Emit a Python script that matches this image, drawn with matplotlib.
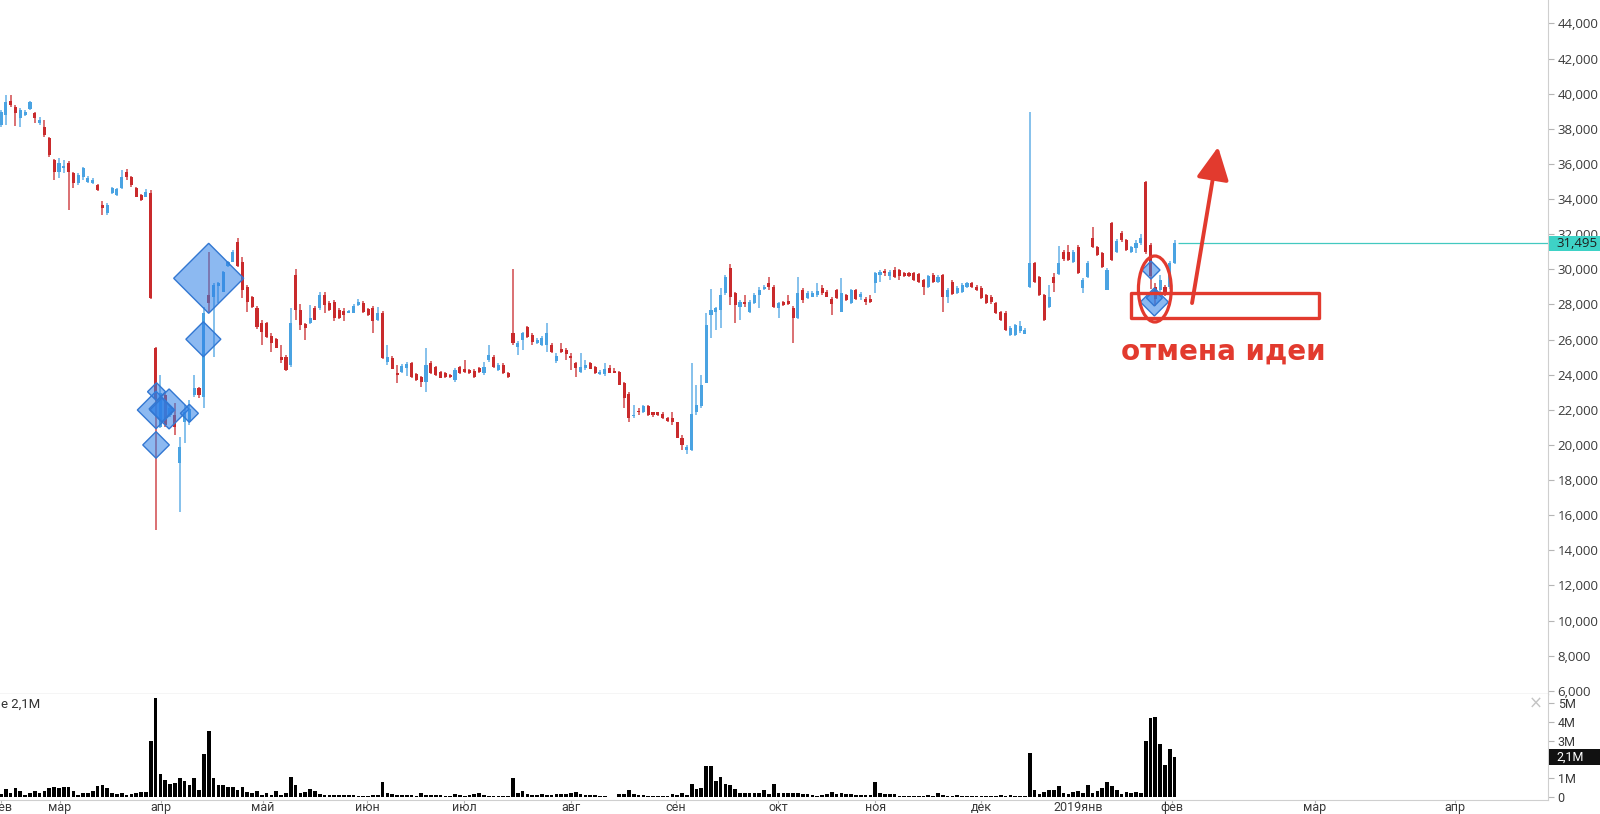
import numpy as np
import matplotlib
matplotlib.use("Agg")
import matplotlib.pyplot as plt
from matplotlib.patches import Polygon, Ellipse, Rectangle
from matplotlib.transforms import blended_transform_factory

# ---------------- data (prices in thousands, volume in millions) ----------------
open_k = [
    38.23, 38.80, 39.59, 39.25, 38.63, 38.80, 39.14, 38.91, 38.34, 38.11,
    37.49, 36.24, 35.55, 35.78, 36.07, 35.50, 34.93, 35.27, 35.00, 34.93,
    34.81, 33.68, 33.22, 34.36, 34.25, 34.64, 35.55, 35.27, 34.64, 34.25,
    34.13, 34.36, 25.54, 21.05, 22.87, 21.73, 21.73, 19.00, 21.28, 21.28,
    22.87, 23.27, 22.75, 28.56, 28.44, 29.07, 28.73, 30.21, 30.43, 31.57,
    30.43, 29.00, 28.44, 27.82, 26.97, 26.97, 26.23, 26.06, 25.03, 25.03,
    24.58, 29.69, 27.70, 26.91, 26.97, 27.82, 27.82, 28.56, 28.10, 28.16,
    27.70, 27.65, 27.53, 27.53, 27.99, 28.10, 27.76, 27.82, 27.14, 27.53,
    24.75, 24.97, 24.12, 24.18, 24.40, 24.69, 24.06, 23.89, 23.61, 24.69,
    24.46, 24.18, 24.12, 24.01, 23.72, 24.46, 24.35, 24.29, 24.23, 24.40,
    24.12, 24.86, 25.03, 24.29, 24.58, 24.12, 26.40, 25.60, 26.00, 26.74,
    26.28, 25.83, 25.71, 25.71, 25.71, 24.80, 25.48, 25.43, 25.08, 24.69,
    24.18, 24.40, 24.69, 24.46, 24.06, 24.06, 24.40, 24.23, 24.18, 23.55,
    22.92, 21.62, 21.91, 21.85, 22.24, 21.85, 21.85, 21.79, 21.56, 21.56,
    21.28, 20.42, 19.74, 19.74, 21.85, 22.19, 23.55, 27.42, 27.59, 27.70,
    28.67, 30.09, 28.67, 27.87, 28.16, 27.59, 28.10, 28.56, 28.90, 29.24,
    29.02, 27.82, 28.16, 28.22, 27.82, 27.25, 28.84, 28.39, 28.44, 28.56,
    28.96, 28.73, 28.33, 28.84, 27.59, 28.56, 28.10, 28.84, 28.44, 28.33,
    28.33, 29.24, 29.69, 29.92, 29.63, 29.98, 29.98, 29.80, 29.80, 29.80,
    29.75, 29.41, 29.02, 29.69, 29.30, 29.69, 28.44, 29.30, 28.67, 28.73,
    29.02, 29.24, 29.02, 28.96, 28.56, 28.44, 28.10, 27.59, 27.53, 26.28,
    26.28, 26.51, 26.34, 29.02, 30.38, 29.58, 28.56, 27.87, 29.58, 29.75,
    31.00, 31.00, 30.43, 31.29, 28.96, 29.58, 31.80, 31.29, 30.95, 28.84,
    32.65, 31.00, 32.08, 31.69, 31.00, 31.23, 31.52, 35.00, 31.40, 29.00,
    28.84, 29.02, 29.02, 30.38,
]
high_k = [
    39.08, 39.93, 39.93, 39.36, 39.19, 39.05, 39.60, 38.95, 38.65, 38.51,
    37.55, 36.30, 36.35, 36.24, 36.15, 35.55, 35.50, 35.84, 35.30, 35.20,
    34.85, 33.90, 33.80, 34.70, 34.65, 35.67, 35.70, 35.30, 34.70, 34.30,
    34.60, 34.50, 25.60, 24.01, 23.00, 22.20, 22.41, 20.48, 22.30, 22.58,
    24.01, 23.30, 27.87, 31.00, 29.20, 29.30, 29.90, 30.50, 31.10, 31.80,
    30.70, 29.10, 28.50, 27.90, 27.14, 27.00, 26.40, 26.10, 25.71, 25.10,
    27.82, 30.03, 28.04, 26.97, 27.99, 27.90, 28.73, 28.73, 28.20, 28.25,
    27.80, 27.82, 27.70, 28.00, 28.30, 28.20, 27.80, 27.90, 27.87, 27.60,
    25.71, 25.05, 24.58, 24.60, 24.75, 24.75, 24.10, 23.95, 25.54, 24.80,
    24.50, 24.20, 24.15, 24.05, 24.40, 24.50, 24.86, 24.35, 24.30, 24.45,
    24.75, 25.71, 25.10, 24.65, 24.65, 24.15, 30.03, 25.90, 26.46, 26.80,
    26.35, 26.10, 26.20, 26.97, 25.80, 25.26, 25.83, 25.50, 25.26, 24.75,
    25.26, 24.86, 24.75, 24.50, 24.25, 24.69, 24.58, 24.40, 24.23, 23.60,
    23.00, 22.30, 22.08, 22.30, 22.30, 21.90, 21.90, 21.85, 21.60, 21.85,
    21.30, 20.59, 20.00, 24.69, 23.44, 24.01, 27.53, 28.90, 27.87, 28.96,
    29.69, 30.32, 28.73, 28.27, 28.56, 28.25, 28.65, 29.02, 29.10, 29.58,
    29.10, 28.16, 28.20, 28.56, 27.90, 29.58, 28.96, 28.75, 28.75, 29.24,
    29.13, 28.80, 28.40, 28.90, 29.52, 28.60, 28.90, 28.90, 28.73, 28.40,
    28.56, 29.86, 29.98, 30.03, 29.98, 30.15, 30.03, 29.86, 29.86, 29.86,
    29.80, 29.46, 29.70, 29.80, 29.65, 29.75, 28.96, 29.40, 29.05, 29.20,
    29.30, 29.30, 29.10, 29.05, 28.60, 28.56, 28.16, 27.65, 27.60, 26.75,
    26.91, 27.03, 26.65, 38.97, 30.43, 29.63, 28.60, 29.13, 29.80, 31.35,
    31.10, 31.40, 31.10, 31.40, 29.52, 30.45, 32.42, 31.35, 31.00, 30.05,
    32.70, 31.70, 32.20, 31.75, 31.35, 31.69, 32.00, 35.05, 31.50, 29.20,
    29.70, 29.13, 30.50, 31.65,
]
low_k = [
    38.10, 38.23, 39.25, 38.17, 38.11, 38.75, 39.10, 38.34, 38.20, 37.54,
    36.40, 35.10, 35.21, 35.50, 33.39, 34.64, 34.80, 35.10, 34.90, 34.85,
    34.48, 33.10, 33.10, 34.30, 34.15, 34.60, 35.10, 34.70, 34.10, 33.90,
    34.10, 28.30, 15.17, 20.99, 21.00, 21.60, 20.59, 16.20, 20.10, 21.16,
    22.75, 22.70, 22.13, 27.53, 25.03, 28.10, 28.70, 30.15, 30.40, 30.15,
    28.39, 27.59, 27.80, 26.60, 25.71, 26.10, 25.32, 25.50, 24.69, 24.20,
    24.46, 27.14, 26.57, 26.00, 26.90, 27.10, 27.70, 27.53, 27.60, 27.03,
    27.20, 27.03, 27.50, 27.50, 27.90, 27.50, 27.35, 26.40, 27.03, 24.90,
    24.58, 24.30, 23.55, 24.10, 23.90, 23.80, 23.65, 23.32, 23.04, 24.05,
    23.95, 23.80, 23.80, 23.80, 23.61, 24.05, 24.12, 24.05, 23.80, 24.10,
    24.01, 24.75, 24.40, 24.20, 24.05, 23.80, 25.70, 25.14, 25.43, 26.10,
    25.71, 25.75, 25.65, 25.32, 25.25, 24.69, 25.26, 24.86, 24.29, 23.89,
    24.12, 24.29, 24.30, 24.05, 24.00, 23.95, 24.10, 24.10, 23.40, 22.13,
    21.28, 21.56, 21.68, 21.80, 21.65, 21.60, 21.65, 21.45, 21.30, 21.16,
    20.40, 19.74, 19.51, 19.65, 21.73, 22.08, 23.50, 26.11, 26.57, 26.68,
    28.56, 27.99, 26.97, 27.14, 27.87, 27.50, 28.00, 27.82, 28.85, 28.84,
    27.80, 27.25, 27.90, 27.99, 25.83, 27.20, 28.10, 28.30, 28.40, 28.44,
    28.56, 28.40, 27.42, 28.30, 27.55, 28.20, 28.05, 28.25, 28.27, 27.99,
    28.10, 28.67, 29.30, 29.63, 29.41, 29.52, 29.41, 29.58, 29.55, 29.35,
    29.20, 28.56, 28.96, 29.24, 29.20, 27.59, 28.10, 28.56, 28.60, 28.67,
    28.96, 28.96, 28.75, 28.30, 28.04, 28.04, 27.48, 27.08, 26.50, 26.20,
    26.20, 26.40, 26.30, 28.96, 29.24, 28.50, 27.03, 27.80, 28.73, 29.70,
    30.50, 30.50, 30.35, 29.75, 28.67, 29.50, 31.23, 30.75, 30.10, 28.80,
    30.50, 30.95, 31.57, 31.05, 30.95, 30.95, 31.40, 30.90, 28.90, 27.90,
    28.60, 28.50, 28.90, 30.30,
]
close_k = [
    38.97, 39.53, 39.36, 38.91, 39.08, 38.97, 39.53, 38.63, 38.51, 37.66,
    36.52, 35.55, 36.07, 35.89, 35.55, 34.93, 35.38, 35.78, 35.21, 35.10,
    34.53, 33.51, 33.68, 34.64, 34.59, 35.27, 35.27, 34.81, 34.13, 33.96,
    34.42, 28.39, 22.60, 22.98, 21.16, 22.13, 21.05, 19.91, 21.85, 22.02,
    23.27, 22.87, 27.53, 28.10, 29.13, 29.24, 29.86, 30.43, 31.00, 30.21,
    28.84, 28.16, 27.87, 26.74, 26.46, 26.17, 25.83, 25.54, 24.86, 24.29,
    26.97, 27.70, 26.85, 26.68, 27.25, 27.14, 28.56, 27.99, 27.70, 27.25,
    27.25, 27.42, 27.65, 27.93, 28.16, 27.59, 27.42, 27.03, 27.53, 24.97,
    25.03, 24.35, 24.01, 24.52, 24.63, 23.89, 23.72, 23.61, 24.58, 24.12,
    24.01, 23.84, 23.89, 23.89, 24.29, 24.12, 24.18, 24.12, 23.89, 24.18,
    24.46, 25.14, 24.46, 24.58, 24.12, 23.89, 25.83, 25.83, 26.40, 26.17,
    25.88, 26.00, 26.11, 26.40, 25.32, 25.08, 25.32, 25.20, 24.97, 24.40,
    24.46, 24.58, 24.35, 24.12, 24.18, 24.35, 24.12, 24.12, 23.44, 22.70,
    21.56, 21.73, 21.85, 22.19, 21.73, 21.68, 21.73, 21.51, 21.34, 21.28,
    20.42, 20.02, 19.91, 21.79, 22.30, 23.44, 26.85, 27.70, 27.82, 28.56,
    29.58, 28.44, 27.99, 28.16, 28.04, 28.16, 28.56, 28.84, 29.02, 29.02,
    27.87, 28.10, 27.99, 28.04, 27.25, 28.67, 28.27, 28.67, 28.67, 28.79,
    28.67, 28.44, 28.04, 28.39, 28.67, 28.27, 28.84, 28.33, 28.62, 28.16,
    28.16, 29.80, 29.86, 29.80, 29.86, 29.58, 29.63, 29.63, 29.63, 29.41,
    29.30, 29.02, 29.63, 29.30, 29.58, 28.44, 28.84, 28.62, 28.96, 29.13,
    29.24, 29.02, 28.84, 28.39, 28.10, 28.16, 27.53, 27.14, 26.57, 26.68,
    26.85, 26.80, 26.57, 30.38, 29.30, 28.56, 27.14, 28.44, 29.24, 30.38,
    30.60, 30.55, 31.00, 29.80, 29.41, 30.38, 31.29, 30.83, 30.15, 29.98,
    30.55, 31.63, 31.69, 31.12, 31.29, 31.52, 31.80, 31.00, 29.60, 28.30,
    29.41, 28.70, 30.38, 31.495,
]
volume_m = [
    0.14, 0.39, 0.18, 0.44, 0.32, 0.09, 0.21, 0.32, 0.21, 0.32,
    0.44, 0.53, 0.44, 0.53, 0.53, 0.32, 0.09, 0.21, 0.21, 0.32,
    0.57, 0.62, 0.44, 0.18, 0.14, 0.21, 0.09, 0.14, 0.21, 0.27,
    0.25, 3.00, 5.30, 1.24, 0.89, 0.67, 0.74, 0.98, 0.85, 0.62,
    0.98, 0.35, 2.30, 3.50, 0.98, 0.62, 0.62, 0.53, 0.50, 0.35,
    0.53, 0.27, 0.18, 0.32, 0.09, 0.18, 0.09, 0.30, 0.09, 0.20,
    1.06, 0.62, 0.21, 0.27, 0.39, 0.32, 0.14,
    0.09, 0.09, 0.07, 0.07, 0.10, 0.10, 0.07, 0.04, 0.05, 0.02, 0.10, 0.07, 0.78,
    0.18, 0.14, 0.10, 0.10, 0.09, 0.07, 0.05, 0.21, 0.10, 0.09,
    0.09, 0.07, 0.05, 0.05, 0.16, 0.07, 0.06, 0.09, 0.14, 0.21,
    0.09, 0.05, 0.05, 0.06, 0.05, 0.06, 1.00,
    0.21, 0.30, 0.12, 0.10, 0.09, 0.14, 0.09, 0.09, 0.12, 0.12, 0.14, 0.18, 0.25, 0.14, 0.07, 0.07,
    0.07, 0.05, 0.03, 0.00, 0.00, 0.14, 0.14, 0.35, 0.14, 0.09,
    0.07, 0.05, 0.05, 0.05, 0.05, 0.05, 0.12, 0.09, 0.18, 0.09,
    0.67, 0.39, 0.44, 1.63, 1.63, 0.82, 1.03, 0.66, 0.62, 0.39, 0.21,
    0.18, 0.21, 0.18, 0.21, 0.35, 0.15, 0.67, 0.21, 0.18, 0.21, 0.21,
    0.18, 0.12, 0.14, 0.07, 0.05, 0.09, 0.14, 0.25, 0.14, 0.18, 0.14, 0.14, 0.07, 0.07, 0.10, 0.08, 0.78,
    0.18, 0.14, 0.14, 0.14, 0.05, 0.05, 0.05, 0.05, 0.05, 0.05,
    0.09, 0.05, 0.21, 0.09, 0.05, 0.05, 0.09, 0.05, 0.05, 0.04,
    0.05, 0.05, 0.04, 0.05, 0.05, 0.07, 0.05, 0.08, 0.05, 0.05, 0.06,
    2.34,
    0.35, 0.14, 0.27, 0.35, 0.35, 0.59, 0.21, 0.14, 0.25, 0.30,
    0.18, 0.62, 0.21, 0.30, 0.44, 0.76, 0.59, 0.35, 0.14, 0.23, 0.18, 0.25, 0.20,
    3.00, 4.20, 4.25, 2.80, 1.70, 2.55, 2.12,
]

# month tick positions (bar index) and labels
month_pos = [0, 12.2, 33.1, 54.2, 75.8, 95.9, 118.0, 139.7, 160.9, 181.0, 203.0, 223.0, 242.4, 272.0, 301.0]
month_lbl = ["фев", "мар", "апр", "май", "июн", "июл", "авг", "сен", "окт", "ноя", "дек", "2019янв", "фев", "мар", "апр"]

price_ticks = list(range(6, 46, 2))
vol_ticks = [0, 1, 2, 3, 4, 5]
vol_tick_lbl = ["0", "1M", "", "3M", "4M", "5M"]   # 2M hidden behind current-volume box

# signal diamonds: bar index, price level (thousands), strength
diamond_x = [43.0, 41.9, 32.1, 32.2, 34.8, 39.0, 32.1, 33.3, 238.1, 238.8, 238.8]
diamond_p = [29.49, 26.02, 21.99, 23.03, 22.05, 21.80, 20.00, 21.99, 29.96, 28.14, 28.37]
diamond_s = [35, 17.5, 18.7, 9, 20, 9, 13.3, 12, 9, 14, 8]

n = len(close_k)
assert len(open_k) == n and len(high_k) == n and len(low_k) == n and len(volume_m) == n

# ---------------- figure ----------------
W, H, DPI = 1600, 814, 100
fig = plt.figure(figsize=(W / DPI, H / DPI), dpi=DPI)
fig.patch.set_facecolor("white")

AX_R = 1548
PRICE_BOT = 694
VOL_TOP, VOL_BOT = 694, 800
ax = fig.add_axes([0, 1 - PRICE_BOT / H, AX_R / W, PRICE_BOT / H])
axv = fig.add_axes([0, 1 - VOL_BOT / H, AX_R / W, (VOL_BOT - VOL_TOP) / H], sharex=ax)

X0, X1 = -0.207, 320.3
PX_PER_BAR = AX_R / (X1 - X0)
Y0, Y1 = 5.817, 45.338
PX_PER_K = PRICE_BOT / (Y1 - Y0)
ax.set_xlim(X0, X1)
ax.set_ylim(Y0, Y1)
V0, V1 = -0.18, 5.50
axv.set_ylim(V0, V1)

UP = "#4aa3e2"
DOWN = "#c92a2c"
GRID = "#cfcfcf"

x = np.arange(n)
o = np.array(open_k); c = np.array(close_k); h = np.array(high_k); l = np.array(low_k)
up = c >= o
cols = np.where(up, UP, DOWN)

ax.vlines(x, l, h, colors=cols, linewidth=1.1, alpha=0.85, zorder=2)
body_bottom = np.minimum(o, c)
body_h = np.maximum(np.abs(c - o), 1.2 / PX_PER_K)
ax.bar(x, body_h, bottom=body_bottom, width=0.64, color=cols, linewidth=0, zorder=3)

# volume
axv.bar(x, volume_m, width=0.76, color="black", linewidth=0, zorder=2)

# diamonds
for dx_, dp_, ds_ in zip(diamond_x, diamond_p, diamond_s):
    hx = ds_ / PX_PER_BAR
    hy = ds_ / PX_PER_K
    poly = Polygon([(dx_ - hx, dp_), (dx_, dp_ + hy), (dx_ + hx, dp_), (dx_, dp_ - hy)],
                   closed=True, facecolor=(0.18, 0.50, 0.90, 0.55),
                   edgecolor="#3277d2", linewidth=1.0, zorder=5)
    ax.add_patch(poly)

# spines / ticks main
for s in ["top", "left"]:
    ax.spines[s].set_visible(False)
ax.spines["bottom"].set_color(GRID)
ax.spines["bottom"].set_linewidth(1.0)
ax.spines["right"].set_color(GRID)
ax.yaxis.tick_right()
ax.set_yticks(price_ticks)
ax.set_yticklabels([f"{t * 1000:,}" for t in price_ticks])
ax.tick_params(axis="y", length=4, width=0.8, color="#b5b5b5", pad=3,
               labelsize=9.5, labelcolor="#3a3a3a")
for lab in ax.get_yticklabels():
    lab.set_fontfamily(["Open Sans", "DejaVu Sans"])
ax.tick_params(axis="x", bottom=False, labelbottom=False)

for s in ["top", "left"]:
    axv.spines[s].set_visible(False)
axv.spines["right"].set_color(GRID)
axv.spines["bottom"].set_color(GRID)
axv.yaxis.tick_right()
axv.set_yticks(vol_ticks)
axv.set_yticklabels(vol_tick_lbl)
axv.tick_params(axis="y", length=4, width=0.8, color="#b5b5b5", pad=3,
                labelsize=9, labelcolor="#3a3a3a")
for lab in axv.get_yticklabels():
    lab.set_fontfamily(["Roboto", "DejaVu Sans"])
axv.set_xticks(month_pos)
axv.tick_params(axis="x", length=2.5, width=0.8, color="#b5b5b5", labelbottom=False)

# month labels (baseline placed just above the bottom edge)
mt = blended_transform_factory(axv.transData, fig.transFigure)
for mp, ml in zip(month_pos, month_lbl):
    axv.text(mp, 1 - 811 / H, ml, transform=mt, ha="center", va="baseline",
             fontsize=9, color="#3a3a3a", family=["Roboto", "DejaVu Sans"], clip_on=False)

# current price line and label
last = c[-1]
ax.hlines(last, x[-1] + 0.6, X1, colors="#43c9c0", linewidth=0.9, zorder=4)
bt = blended_transform_factory(fig.transFigure, ax.transData)
box_h = 15 / PX_PER_K
ax.add_patch(Rectangle((1549 / W, last - box_h / 2), 51 / W, box_h, transform=bt,
                       facecolor="#3ed2c6", edgecolor="none", clip_on=False, zorder=10))
ax.text(1556 / W, last, f"{last * 1000:,.0f}", transform=bt, ha="left", va="center",
        fontsize=9.5, color="#1d1d1d", family=["Open Sans", "DejaVu Sans"],
        clip_on=False, zorder=11)

# current volume label
btv = blended_transform_factory(fig.transFigure, axv.transData)
PX_PER_M = (VOL_BOT - VOL_TOP) / (V1 - V0)
vb_h = 16 / PX_PER_M
lastv = volume_m[-1]
axv.add_patch(Rectangle((1549 / W, lastv - vb_h / 2), 51 / W, vb_h, transform=btv,
                        facecolor="#111111", edgecolor="none", clip_on=False, zorder=10))
axv.text(1556 / W, lastv, "2,1M", transform=btv, ha="left", va="center",
         fontsize=9, color="white", family=["Roboto", "DejaVu Sans"], clip_on=False, zorder=11)

fig.text(1 / W, 1 - 704 / H, "e 2,1M", ha="left", va="center", fontsize=9.5,
         color="#333333", family=["Roboto", "DejaVu Sans"])
fig.text(1536 / W, 1 - 704 / H, "×", ha="center", va="center", fontsize=12,
         color="#c4c4c4", family="DejaVu Sans")

# ---------------- red hand annotations ----------------
RED = "#e23a2e"
ax.add_patch(Ellipse((238.9, 28.88), 6.8, 3.76, fill=False, edgecolor=RED, linewidth=2.3, zorder=7))
ax.add_patch(Rectangle((233.96, 27.23), 38.94, 1.42, fill=False, edgecolor=RED,
                       linewidth=2.4, joinstyle="round", zorder=7))
ax.annotate("", xy=(252.0, 36.97), xytext=(246.6, 28.08),
            arrowprops=dict(arrowstyle="-|>,head_length=1.0,head_width=0.5",
                            color=RED, lw=2.8, mutation_scale=20, shrinkA=0, shrinkB=0),
            zorder=7)
ax.text(253.0, 24.84, "отмена идеи", ha="center", va="baseline", fontsize=20,
        fontweight="bold", color=RED, family=["DejaVu Sans"], zorder=7)

fig.savefig("out.png", dpi=DPI, facecolor="white")
